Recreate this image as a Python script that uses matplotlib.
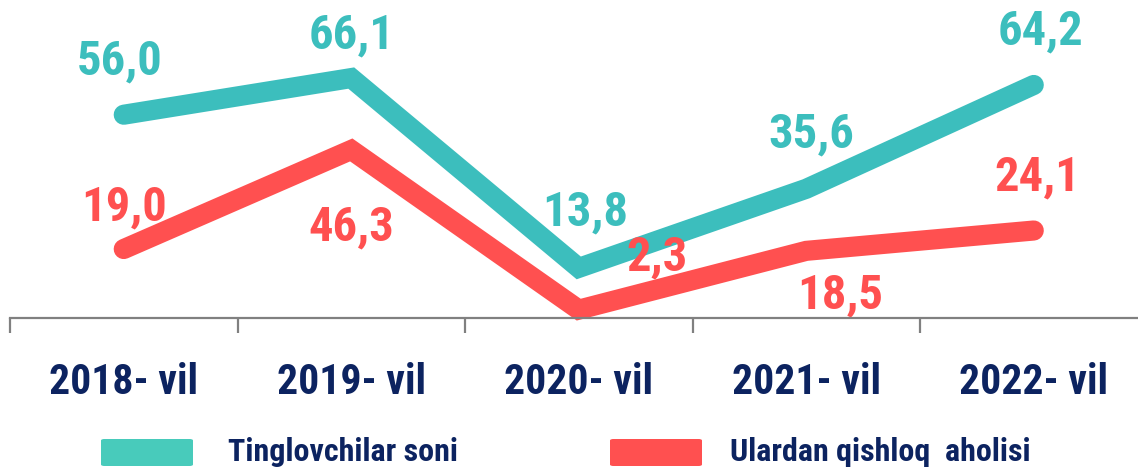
import matplotlib
matplotlib.use("Agg")
import matplotlib.pyplot as plt
from matplotlib.patches import FancyBboxPatch

years = ["2018- vil", "2019- vil", "2020- vil", "2021- vil", "2022- vil"]
listeners = [56.0, 66.1, 13.8, 35.6, 64.2]
rural = [19.0, 46.3, 2.3, 18.5, 24.1]
series_names = ["Tinglovchilar soni", "Ulardan qishloq  aholisi"]

# label offsets in pixels (dx, dy) from each point
teal_offsets = [(-4, 53), (0, 43), (6, 55), (5, 54), (7, 53)]
red_offsets = [(0, 42), (0, -78), (78, 52), (34, -45), (4, 53)]

TEAL = "#3cbebd"
RED = "#ff5050"
NAVY = "#0c2360"

plt.rcParams["font.family"] = ["Roboto Condensed", "DejaVu Sans"]

fig = plt.figure(figsize=(11.38, 4.75), dpi=100)
ax = fig.add_axes([10 / 1138, 157 / 475, 1137.5 / 1138, 318 / 475])

x = list(range(len(years)))
ax.plot(x, listeners, color=TEAL, lw=14.5, solid_capstyle="round",
        solid_joinstyle="miter", clip_on=False, zorder=3)
ax.plot(x, rural, color=RED, lw=14.5, solid_capstyle="round",
        solid_joinstyle="miter", clip_on=False, zorder=2)

for xi, v, off in zip(x, listeners, teal_offsets):
    ax.annotate(f"{v:.1f}".replace(".", ","), (xi, v), xytext=off,
                textcoords="offset pixels", ha="center", va="center",
                fontsize=35, fontweight="bold", color=TEAL, zorder=5)
for xi, v, off in zip(x, rural, red_offsets):
    ax.annotate(f"{v:.1f}".replace(".", ","), (xi, v), xytext=off,
                textcoords="offset pixels", ha="center", va="center",
                fontsize=35, fontweight="bold", color=RED, zorder=5)

ax.set_xlim(-0.5, 4.5)
ax.set_ylim(0, 318 / 3.63)
for s in ["top", "right", "left"]:
    ax.spines[s].set_visible(False)
ax.spines["bottom"].set_color("#808080")
ax.spines["bottom"].set_linewidth(1.6)
ax.spines["bottom"].set_zorder(6)
ax.set_yticks([])
ax.set_xticks([i - 0.5 for i in range(len(years) + 1)])
ax.set_xticklabels([])
ax.tick_params(axis="x", length=11, width=1.6, color="#808080")
ax.set_xticks(x, minor=True)
ax.set_xticklabels(years, minor=True, fontsize=30, fontweight="bold", color=NAVY)
ax.tick_params(axis="x", which="minor", length=0, pad=32)
ax.patch.set_visible(False)

# legend drawn by hand
W, H = 1138, 475
legend_items = [(101, 228, "#48cbbb", series_names[0]),
                (610, 730, RED, series_names[1])]
for px, tx, col, name in legend_items:
    rect = FancyBboxPatch((px / W, (H - 466) / H), 92 / W, 27 / H,
                          boxstyle="round,pad=0,rounding_size=0.003",
                          transform=fig.transFigure, facecolor=col,
                          edgecolor="none")
    fig.patches.append(rect)
    fig.text(tx / W, (H - 452) / H, name, fontsize=23, fontweight="bold",
             color=NAVY, va="center", ha="left")

fig.savefig("out.png", dpi=100)
